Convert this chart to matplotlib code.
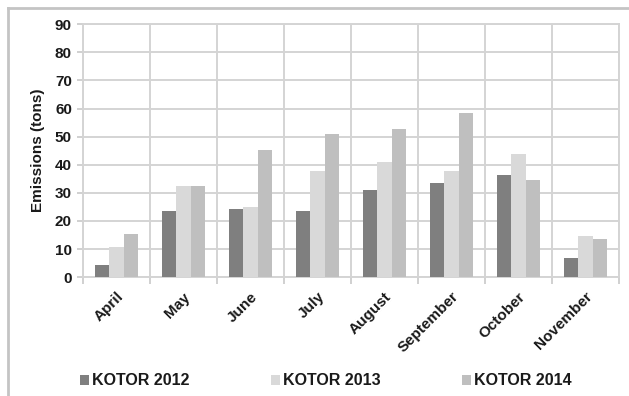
import numpy as np
import matplotlib.pyplot as plt
from matplotlib.lines import Line2D

plt.rcParams['font.family'] = ['Liberation Sans', 'DejaVu Sans']

months = ["April", "May", "June", "July", "August", "September", "October", "November"]
kotor_2012 = [4.5, 23.6, 24.3, 23.4, 31.1, 33.5, 36.2, 7.0]
kotor_2013 = [10.6, 32.6, 25.0, 37.6, 41.0, 37.6, 43.9, 14.7]
kotor_2014 = [15.2, 32.6, 45.4, 51.1, 52.8, 58.5, 34.5, 13.6]
series = [("KOTOR 2012", kotor_2012, "#7f7f7f"),
          ("KOTOR 2013", kotor_2013, "#d9d9d9"),
          ("KOTOR 2014", kotor_2014, "#bfbfbf")]

fig = plt.figure(figsize=(6.29, 3.96), dpi=100)
ax = fig.add_axes([0.132, 0.30, 0.852, 0.639])

x = np.arange(len(months))
w = 0.215
for i, (name, vals, col) in enumerate(series):
    ax.bar(x + (i - 1) * w, vals, width=w, color=col, label=name, zorder=3)

ax.set_xlim(-0.5, len(months) - 0.5)
ax.set_ylim(0, 90)
ax.set_yticks(range(0, 91, 10))
ax.set_xticks(x)
ax.set_xticklabels(months, rotation=45, ha='right', rotation_mode='anchor',
                   fontsize=11, fontweight='bold', color='#1a1a1a')
ax.set_xticks(np.arange(-0.5, len(months)), minor=True)
ax.tick_params(axis='x', which='major', length=0, pad=9)
ax.tick_params(axis='x', which='minor', length=5, color='#c8c8c8', width=1.2)
ax.tick_params(axis='y', length=4, color='#c8c8c8', width=1.2, labelsize=11,
               labelcolor='#1a1a1a', pad=4)
for lbl in ax.get_yticklabels():
    lbl.set_fontweight('bold')

ax.grid(True, axis='y', color='#d4d4d4', linewidth=1.4, zorder=0)
ax.grid(True, axis='x', which='minor', color='#d4d4d4', linewidth=1.4, zorder=0)
for s in ax.spines.values():
    s.set_color('#d4d4d4')
    s.set_linewidth(1.4)

ax.set_ylabel("Emissions (tons)", fontsize=11, fontweight='bold', labelpad=7,
              color='#1a1a1a')

leg = fig.legend(loc='center', bbox_to_anchor=(0.518, 0.038), ncol=3,
                 frameon=False, handlelength=0.55, handleheight=0.55,
                 handletextpad=0.2, columnspacing=5.1,
                 prop={'weight': 'bold', 'size': 11.5})
for t in leg.get_texts():
    t.set_color('#1a1a1a')

# outer chart frame (left and top edges)
fig.add_artist(Line2D([0.013, 0.013], [0.0, 0.98], transform=fig.transFigure,
                      color='#c4c4c4', linewidth=2))
fig.add_artist(Line2D([0.013, 1.0], [0.98, 0.98], transform=fig.transFigure,
                      color='#c4c4c4', linewidth=2))

fig.savefig("out.png", dpi=100)
